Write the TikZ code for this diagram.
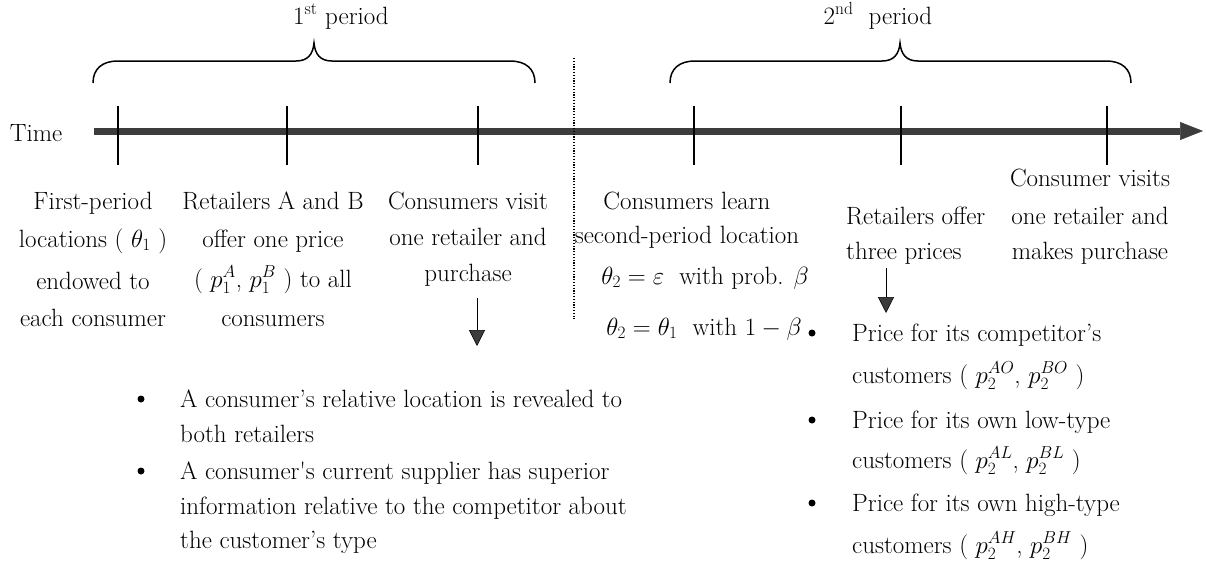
\documentclass[tikz,border=0pt]{standalone}
\usepackage{fontspec}
\usetikzlibrary{arrows.meta}
\definecolor{axisgray}{RGB}{60,60,60}
\begin{document}
\begin{tikzpicture}[x=1pt,y=-1pt,
  lbl/.style={anchor=base,inner sep=0pt,font=\fontsize{25}{30}\selectfont},
  lblw/.style={lbl,anchor=base west},
  dot/.style={circle,fill=black,inner sep=0pt,minimum size=7pt},
  tickline/.style={line width=1.6pt},
  bracepath/.style={line width=1.5pt},
  sepline/.style={line width=1.2pt,dash pattern=on 1.2pt off 1.6pt},
  downarrow/.style={line width=1pt,-{Triangle[length=16pt,width=16pt,line width=0.5pt,fill=axisgray]}}
]
\useasboundingbox (0,0) rectangle (1206,571);

% period labels and braces
\node[lbl] (p1) at (341,24) {1\textsuperscript{st} period};
\node[lbl] (p2) at (878,24) {2\textsuperscript{nd}\ \ period};
\draw[bracepath] (93,83) .. controls (93,69) and (102,61) .. (118,61) -- (296,61)
  .. controls (308,61) and (313,54) .. (314,43) .. controls (315,54) and (320,61) .. (332,61)
  -- (510,61) .. controls (526,61) and (535,69) .. (535,83);
\draw[bracepath] (670,83) .. controls (670,69) and (679,61) .. (695,61) -- (882,61)
  .. controls (894,61) and (899,54) .. (900,43) .. controls (901,54) and (906,61) .. (918,61)
  -- (1106,61) .. controls (1122,61) and (1131,69) .. (1131,83);

% time axis
\node[lbl] (time) at (36,141) {Time};
\coordinate (tstart) at (94,131);
\coordinate (tend) at (1203,131);
\draw[axisgray,line width=7pt,-{Triangle[length=23pt,width=18pt,line width=0.5pt]}] (tstart) -- (tend);
\foreach \x in {118,287,478,694,901,1107}
  \draw[tickline] (\x,106) -- (\x,165);
\draw[sepline] (574,58) -- (574,319);

% events of the first period
\node[lbl] (c1a) at (93,209) {First-period};
\node[lbl] (c1b) at (93,247) {locations ( $\theta_1$ )};
\node[lbl] (c1c) at (93,289) {endowed to};
\node[lbl] (c1d) at (93,326) {each consumer};

\node[lbl] (c2a) at (273,209) {Retailers A and B};
\node[lbl] (c2b) at (273,247) {offer one price};
\node[lbl] (c2c) at (273,287) {( $p_1^A$, $p_1^B$ ) to all};
\node[lbl] (c2d) at (273,326) {consumers};

\node[lbl] (c3a) at (468,209) {Consumers visit};
\node[lbl] (c3b) at (468,245) {one retailer and};
\node[lbl] (c3c) at (468,281) {purchase};

% events of the second period
\node[lbl] (c4a) at (687,209) {Consumers learn};
\node[lbl] (c4b) at (687,243) {second-period location};
\node[lbl] (c4c) at (705,284) {$\theta_2=\varepsilon$\ \ with prob. $\beta$};
\node[lbl] (c4d) at (704,335) {$\theta_2=\theta_1$\ \ with $1-\beta$};

\node[lblw] (c5a) at (846,224) {Retailers offer};
\node[lblw] (c5b) at (846,259) {three prices};

\node[lbl] (c6a) at (1090,186) {Consumer visits};
\node[lbl] (c6b) at (1090,224) {one retailer and};
\node[lbl] (c6c) at (1090,259) {makes purchase};

% consequences of the first-period purchase
\coordinate (a1s) at (477,298);
\coordinate (a1e) at (477,346);
\draw[downarrow] (a1s) -- (a1e);
\node[dot] (d1) at (141,399) {};
\node[lblw] (l1a) at (180,407) {A consumer’s relative location is revealed to};
\node[lblw] (l1b) at (180,442) {both retailers};
\node[dot] (d2) at (141,471) {};
\node[lblw] (l2a) at (180,479) {A consumer\textquotesingle s current supplier has superior};
\node[lblw] (l2b) at (180,514) {information relative to the competitor about};
\node[lblw] (l2c) at (180,548) {the customer’s type};

% the three second-period prices
\coordinate (a2s) at (886,268);
\coordinate (a2e) at (886,313);
\draw[downarrow] (a2s) -- (a2e);
\node[dot] (e1) at (812,333) {};
\node[lblw] (r1a) at (852,341) {Price for its competitor’s};
\node[lblw] (r1b) at (852,383) {customers ( $p_2^{AO}$, $p_2^{BO}$ )};
\node[dot] (e2) at (812,420) {};
\node[lblw] (r2a) at (852,428) {Price for its own low-type};
\node[lblw] (r2b) at (852,468) {customers ( $p_2^{AL}$, $p_2^{BL}$ )};
\node[dot] (e3) at (812,503) {};
\node[lblw] (r3a) at (852,511) {Price for its own high-type};
\node[lblw] (r3b) at (852,553) {customers ( $p_2^{AH}$, $p_2^{BH}$ )};
\end{tikzpicture}
\end{document}
